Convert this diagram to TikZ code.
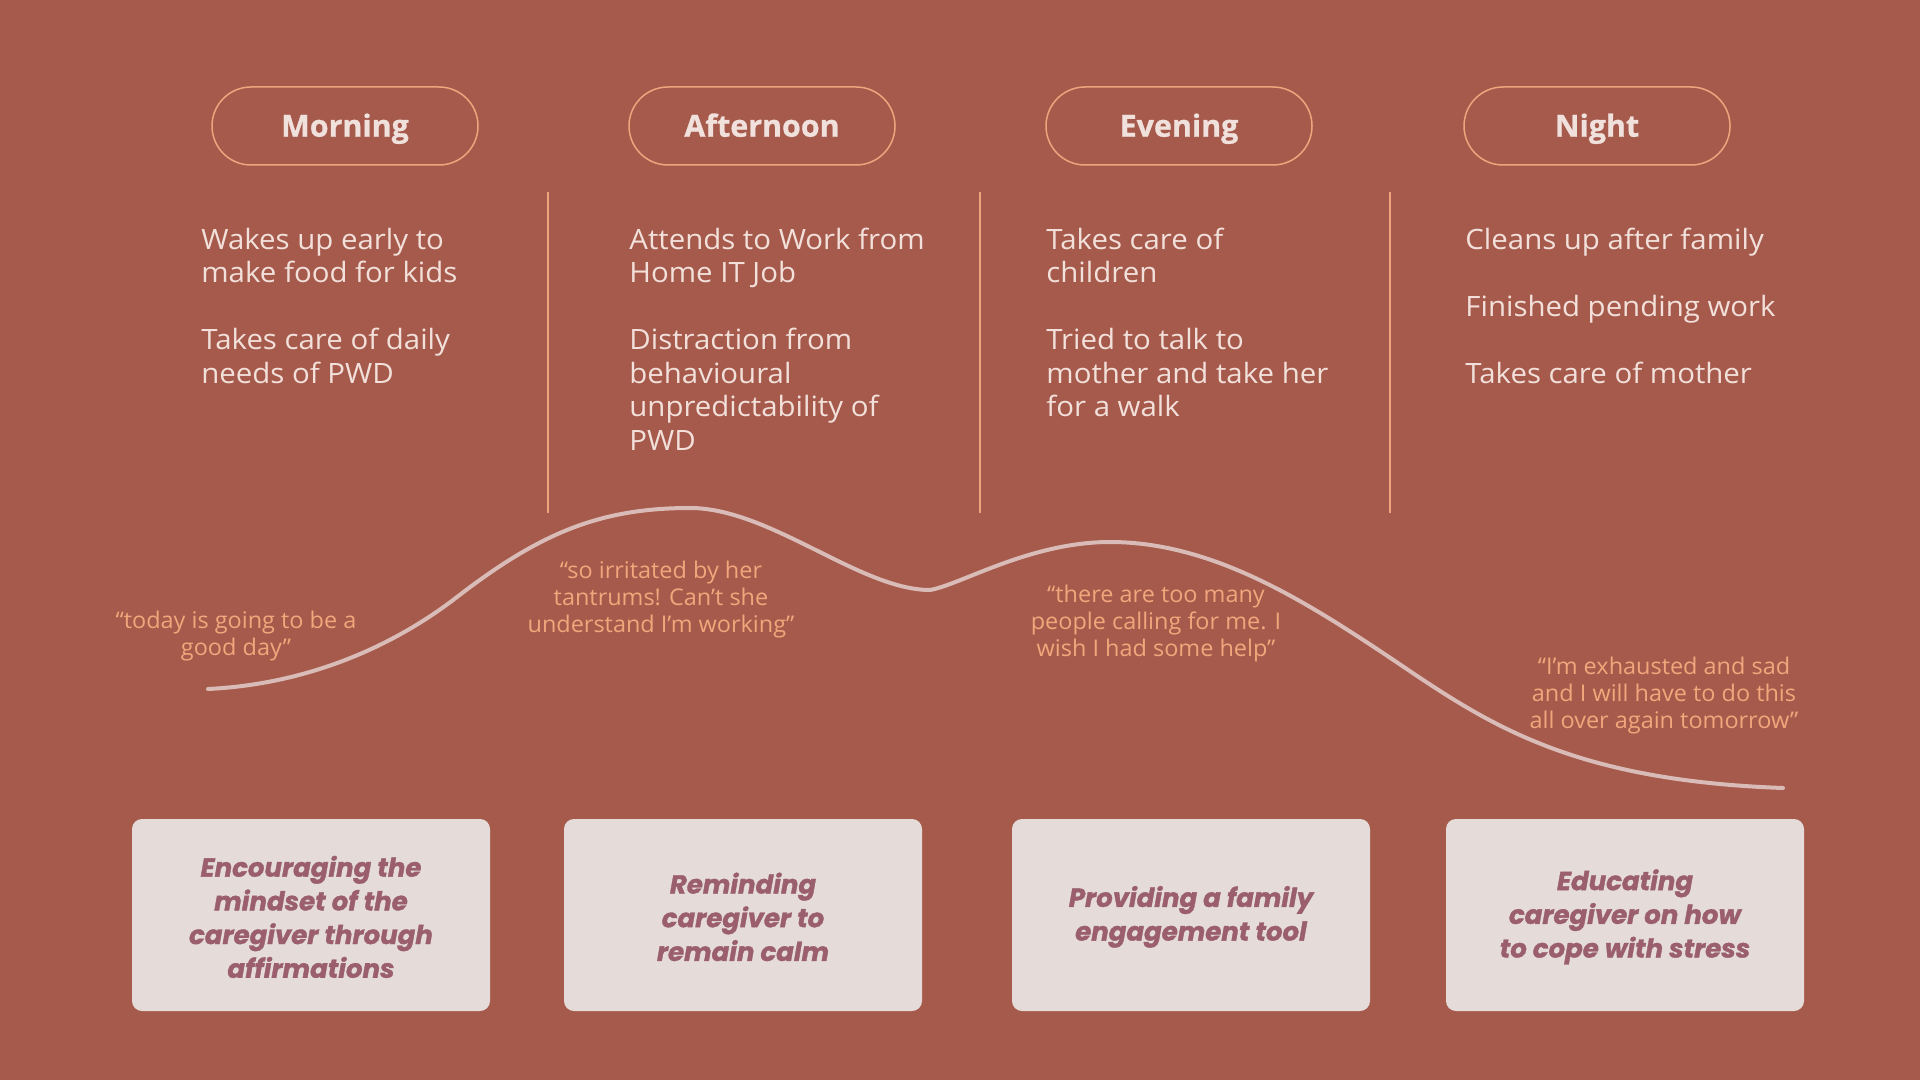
\documentclass[tikz,border=0pt]{standalone}
\usepackage{fontspec}
\setmainfont{Open Sans}[BoldFeatures={FakeBold=0.8}]
\newfontfamily\bodyfont{Open Sans}[FakeStretch=1.05]
\newfontfamily\quotefont{Open Sans}[FakeStretch=1.02]
\newfontfamily\boxfont{Poppins}[BoldItalicFeatures={FakeBold=1.3}]
\definecolor{bgc}{HTML}{A65A4C}
\definecolor{pillc}{HTML}{EFA47E}
\definecolor{headc}{HTML}{F0E1DC}
\definecolor{bodyc}{HTML}{F2E0DA}
\definecolor{quotec}{HTML}{F1A67B}
\definecolor{curvec}{HTML}{D9BCB7}
\definecolor{boxc}{HTML}{E5DCDA}
\definecolor{solc}{HTML}{9A5E6C}
\newcommand{\topgap}{\rule{0pt}{12.3pt}}
\begin{document}
\begin{tikzpicture}[x=0.5pt,y=-0.5pt,
  pill/.style={draw=pillc, line width=0.75pt, rounded corners=19.5pt, minimum width=133pt, minimum height=39pt, inner sep=0pt, text height=10.7pt, text depth=0pt, text=headc, font=\fontsize{15.2pt}{18pt}\selectfont\bfseries},
  body/.style={anchor=north west, inner sep=0pt, align=left, text=bodyc, font=\bodyfont\fontsize{14pt}{16.75pt}\selectfont},
  quote/.style={anchor=north, inner sep=0pt, align=center, text=quotec, font=\quotefont\fontsize{11.5pt}{13.5pt}\selectfont},
  sol/.style={fill=boxc, rounded corners=5pt, minimum width=179pt, minimum height=96pt, inner sep=0pt, align=center, text=solc, font=\boxfont\fontsize{13pt}{16.85pt}\selectfont\bfseries\itshape},
  sep/.style={draw=pillc, line width=0.75pt}]
\fill[bgc] (0,0) rectangle (1920,1080);
\useasboundingbox (0,0) rectangle (1920,1080);
% headers
\node[pill] (pm) at (345,126) {Morning};
\node[pill] (pa) at (762,126) {Afternoon};
\node[pill] (pe) at (1179,126) {Evening};
\node[pill] (pn) at (1597,126) {Night};
% separators
\draw[sep] (548,192) -- (548,513);
\draw[sep] (980,192) -- (980,513);
\draw[sep] (1390,192) -- (1390,513);
% activities
\node[body] (tm) at (201,225.5) {\strut Wakes up early to\\make food for kids\\[16.75pt]Takes care of daily\\needs of PWD};
\node[body] (ta) at (629,225.5) {\strut Attends to Work from\\Home IT Job\\[16.75pt]Distraction from\\behavioural\\unpredictability of\\PWD};
\node[body] (te) at (1046,225.5) {\strut Takes care of\\children\\[16.75pt]Tried to talk to\\mother and take her\\for a walk};
\node[body] (tn) at (1465,225.5) {\strut Cleans up after family\\[16.75pt]Finished pending work\\[16.75pt]Takes care of mother};
% emotion curve
\draw[curvec, line width=2pt, line cap=round]
  (208,689) .. controls (310,684) and (395,645) .. (457,597)
  .. controls (540,533) and (600,508) .. (690,508)
  .. controls (770,508) and (860,590) .. (930,590)
  .. controls (960,585) and (1030,542) .. (1110,542)
  .. controls (1210,542) and (1300,598) .. (1383,653)
  .. controls (1480,718) and (1560,780) .. (1783,788);
% quotes
\node[quote] (q1) at (236,609) {\strut “today is going to be a\\good day”};
\node[quote] (q2) at (661,559) {\strut “so irritated by her\\tantrums! Can’t she\\understand I’m working”};
\node[quote] (q3) at (1156,583) {\strut “there are too many\\people calling for me. I\\wish I had some help”};
\node[quote] (q4) at (1664,655) {\strut “I’m exhausted and sad\\and I will have to do this\\all over again tomorrow”};
% solutions
\node[sol] (b1) at (311,915) {\topgap Encouraging the\\mindset of the\\caregiver through\\affirmations};
\node[sol] (b2) at (743,915) {\topgap Reminding\\caregiver to\\remain calm};
\node[sol] (b3) at (1191,915) {\topgap Providing a family\\engagement tool};
\node[sol] (b4) at (1625,915) {\topgap Educating\\caregiver on how\\to cope with stress};
\end{tikzpicture}
\end{document}
